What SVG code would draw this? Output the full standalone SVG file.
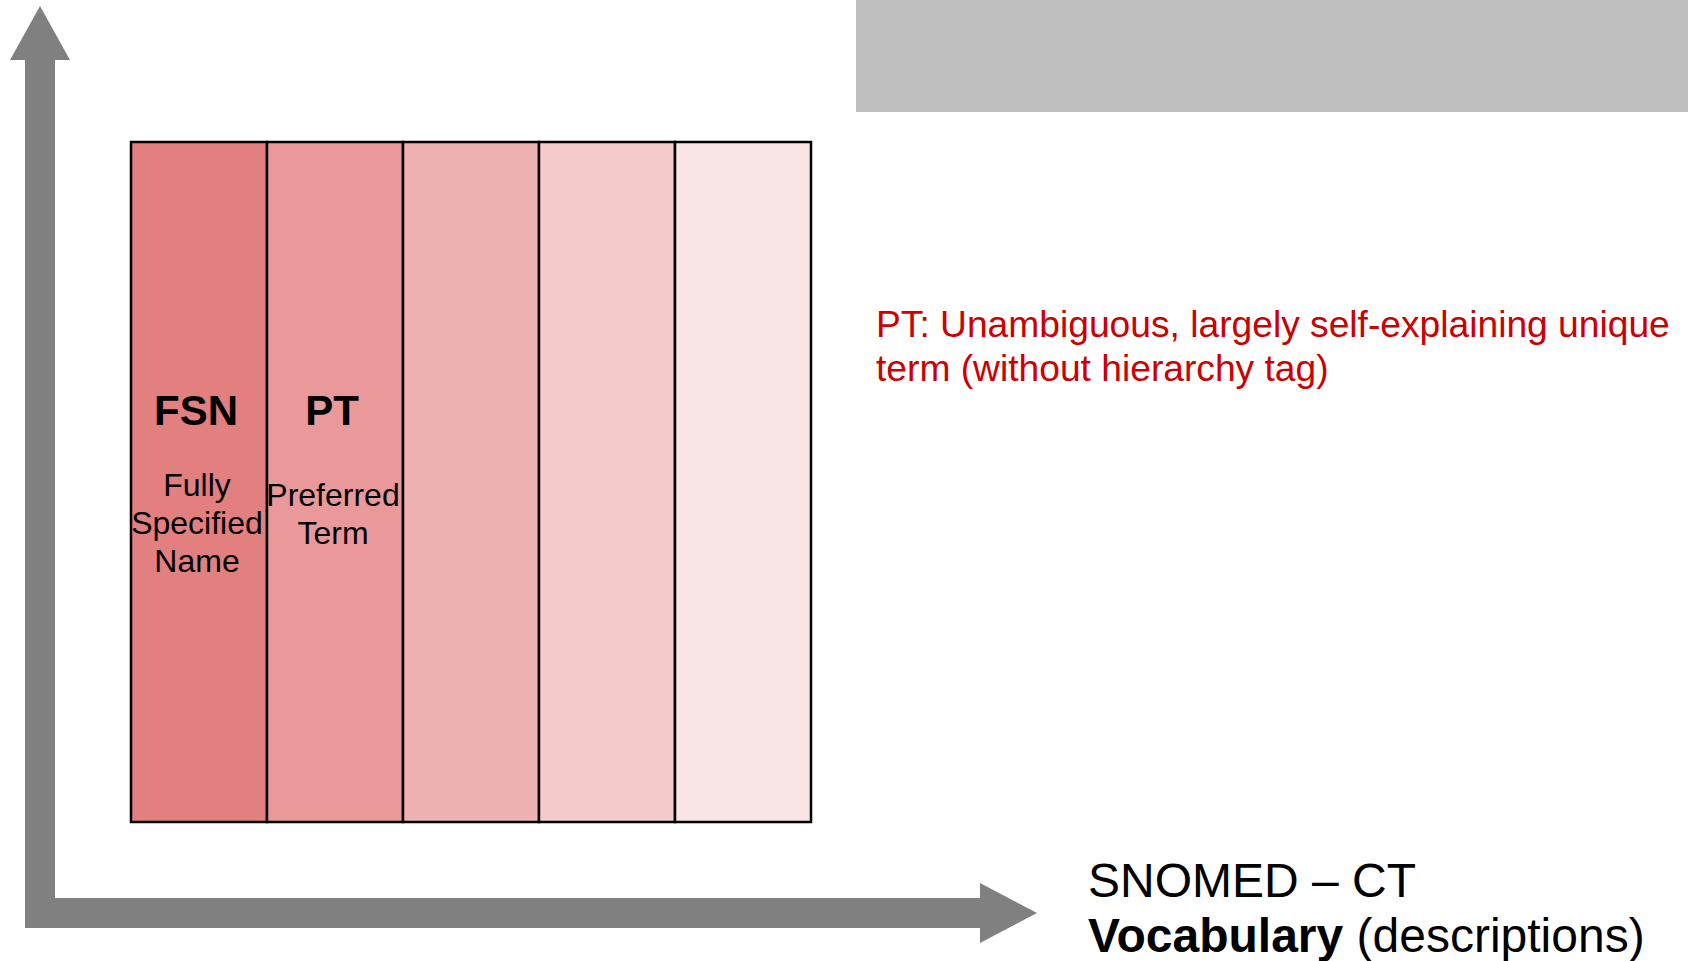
<svg xmlns="http://www.w3.org/2000/svg" width="1693" height="961" viewBox="0 0 1693 961">
<style>
.col{stroke:#000;stroke-width:2.5}
.axis{fill:#808080}
.t{font-family:"Liberation Sans",Arial,sans-serif;fill:#000;text-anchor:middle}
.big{font-size:42px;font-weight:bold}
.sm{font-size:32px}
.red{font-family:"Liberation Sans",Arial,sans-serif;font-size:37.2px;fill:#CC0000}
.lbl{font-family:"Liberation Sans",Arial,sans-serif;font-size:48px;fill:#000}
</style>
<rect width="1693" height="961" fill="#fff"/>
<rect id="header-bar" x="856" y="0" width="832" height="112" fill="#BFBFBF"/>
<g id="connectors">
<polygon class="axis" points="40,6 70,60 55,60 55,898 980,898 980,883 1037,913 980,943 980,928 25,928 25,60 10,60"/>
</g>
<g id="col-fsn">
<rect class="col" x="131" y="142" width="136" height="680" fill="#E27F7F"/>
<text class="t big" x="196" y="425">FSN</text>
<text class="t sm" x="197" y="496">Fully</text>
<text class="t sm" x="197" y="534">Specified</text>
<text class="t sm" x="197" y="572">Name</text>
</g>
<g id="col-pt">
<rect class="col" x="267" y="142" width="136" height="680" fill="#E99999"/>
<text class="t big" x="332" y="425">PT</text>
<text class="t sm" x="333" y="506">Preferred</text>
<text class="t sm" x="333" y="544">Term</text>
</g>
<g id="col-3"><rect class="col" x="403" y="142" width="136" height="680" fill="#EEB2B2"/></g>
<g id="col-4"><rect class="col" x="539" y="142" width="136" height="680" fill="#F3CBCB"/></g>
<g id="col-5"><rect class="col" x="675" y="142" width="136" height="680" fill="#F9E5E5"/></g>
<g id="pt-note">
<text class="red" x="876" y="337">PT: Unambiguous, largely self-explaining unique</text>
<text class="red" x="876" y="381">term (without hierarchy tag)</text>
</g>
<g id="axis-label">
<text class="lbl" x="1088" y="897">SNOMED – CT</text>
<text class="lbl" x="1088" y="952"><tspan font-weight="bold">Vocabulary</tspan> (descriptions)</text>
</g>
</svg>
